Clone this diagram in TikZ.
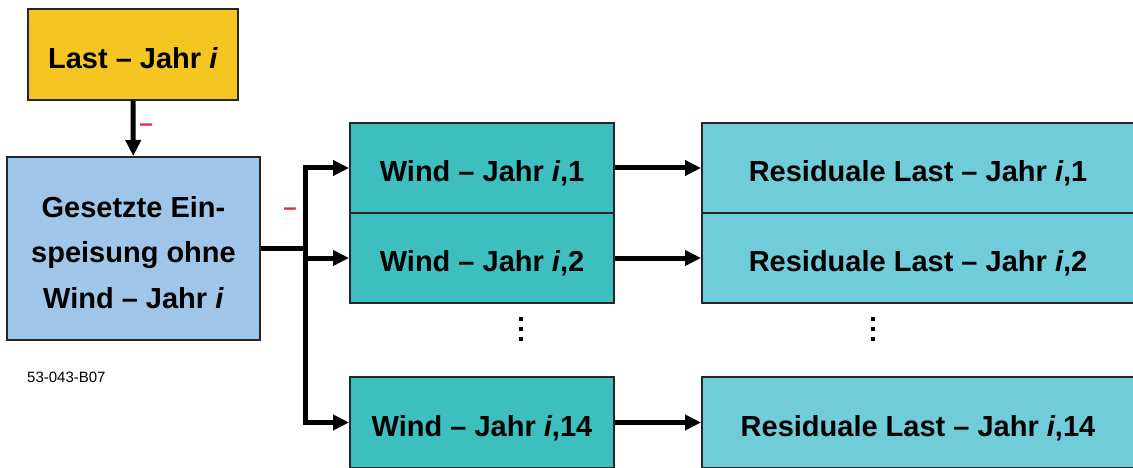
\documentclass[tikz,border=0pt]{standalone}
\usepackage{fontspec}
\setmainfont{Liberation Sans}
\usetikzlibrary{arrows.meta}
\definecolor{lastc}{HTML}{F5C622}
\definecolor{setzc}{HTML}{9FC5E8}
\definecolor{windc}{HTML}{3DBFBF}
\definecolor{resc}{HTML}{70CCD9}
\definecolor{minusc}{HTML}{E8253A}
\tikzset{
  box/.style={draw=black!85, line width=2pt, inner sep=0pt, align=center,
    font=\fontsize{29}{45.5}\selectfont\bfseries},
  oneline/.style={text height=30pt, text depth=2.6pt},
  conn/.style={line width=5pt, -{Triangle[length=16pt,width=15pt]}},
  plain/.style={line width=5pt},
  minus/.style={text=minusc, font=\fontsize{24}{24}\selectfont\bfseries, inner sep=0pt},
  small/.style={font=\fontsize{15}{15}\selectfont, inner sep=0pt, anchor=west},
}
\begin{document}
\begin{tikzpicture}[x=1pt,y=-1pt]
\useasboundingbox (0,0) rectangle (1133,468);
\node[box, oneline, fill=lastc, minimum width=210pt, minimum height=91pt] (last) at (133,54.5) {Last -- Jahr \textit{i}};
\node[box, fill=setzc, minimum width=253pt, minimum height=183pt] (setz) at (133.5,248.5) {\raisebox{-11.6pt}[0pt][0pt]{\begin{tabular}{@{}c@{}}Gesetzte Ein-\\speisung ohne\\Wind -- Jahr \textit{i}\end{tabular}}};
\node[box, oneline, fill=windc, minimum width=264pt, minimum height=90pt] (w1) at (482,168) {Wind -- Jahr \textit{i},1};
\node[box, oneline, fill=windc, minimum width=264pt, minimum height=90pt] (w2) at (482,258) {Wind -- Jahr \textit{i},2};
\node[box, oneline, fill=windc, minimum width=264pt, minimum height=91pt] (w14) at (482,422.5) {Wind -- Jahr \textit{i},14};
\node[box, oneline, fill=resc, minimum width=436pt, minimum height=90pt] (r1) at (920,168) {\hspace*{-2pt}Residuale Last -- Jahr \textit{i},1\hspace*{2pt}};
\node[box, oneline, fill=resc, minimum width=436pt, minimum height=90pt] (r2) at (920,258) {\hspace*{-2pt}Residuale Last -- Jahr \textit{i},2\hspace*{2pt}};
\node[box, oneline, fill=resc, minimum width=436pt, minimum height=91pt] (r14) at (920,422.5) {\hspace*{-2pt}Residuale Last -- Jahr \textit{i},14\hspace*{2pt}};
\node[small] (code) at (27,377) {53-043-B07};
\node[minus] (m1) at (146,128) {--};
\node[minus] (m2) at (290,212) {--};
\coordinate (j) at (305,248);
\draw[conn] (last) -- (setz);
\draw[plain] (setz.east |- j) -- ([xshift=2.5pt]j);
\draw[conn] (j) |- (w1);
\draw[conn] (j) |- (w2);
\draw[conn] (j) |- (w14);
\draw[conn] (w1) -- (r1);
\draw[conn] (w2) -- (r2);
\draw[conn] (w14) -- (r14);
\foreach \xx in {521,873}{
  \foreach \yy in {319,329,339}{
    \fill (\xx-2.2,\yy-2.2) rectangle (\xx+2.2,\yy+2.2);
  }
}
\end{tikzpicture}
\end{document}
